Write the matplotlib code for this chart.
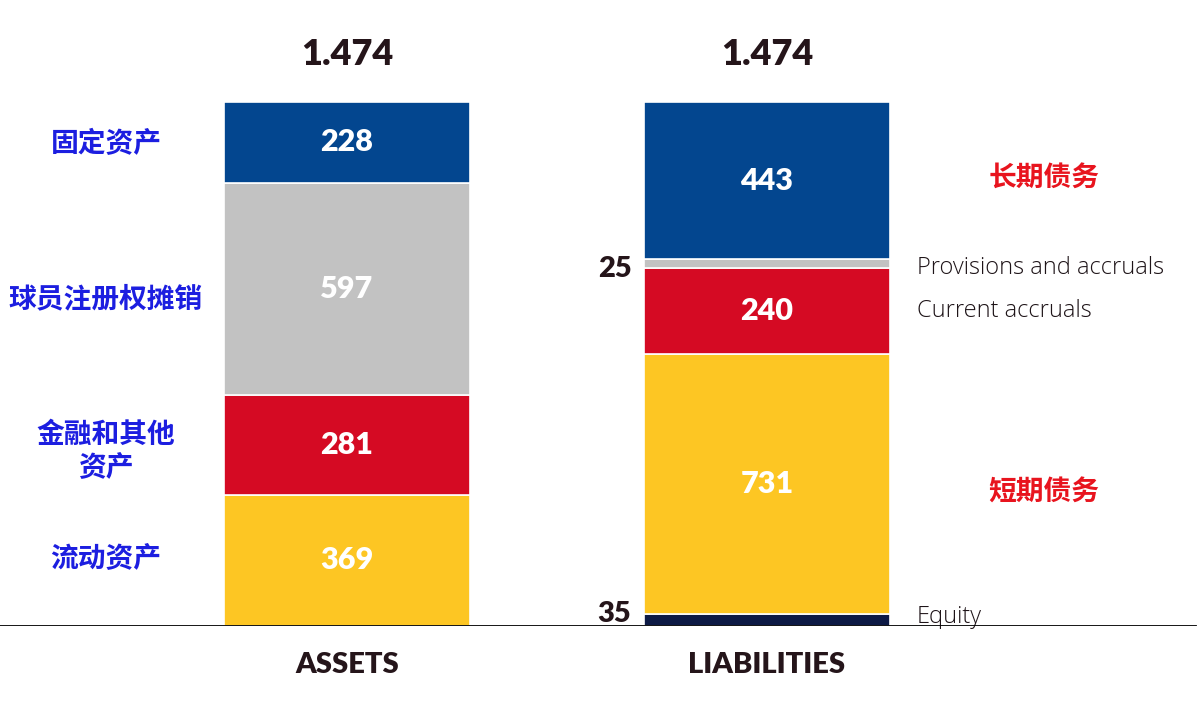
import matplotlib
matplotlib.use("Agg")
import matplotlib.pyplot as plt
import numpy as np

# data (millions)
bars = ["ASSETS", "LIABILITIES"]
totals = ["1.474", "1.474"]
assets_vals = [369, 281, 597, 228]          # bottom -> top
assets_cols = ["#fdc623", "#d50a23", "#c2c2c2", "#03468f"]
assets_cn = ["流动资产", "金融和其他\n资产", "球员注册权摊销", "固定资产"]
liab_vals = [35, 731, 240, 25, 443]         # bottom -> top
liab_cols = ["#0d1a45", "#fdc623", "#d50a23", "#c2c2c2", "#03468f"]
liab_en = ["Equity", None, "Current accruals", "Provisions and accruals", None]
liab_cn = {"短期债务": 1, "长期债务": 4}    # label -> segment index
outside = [0, 3]                             # liability segments labelled outside the bar

num_font = "Lato"
cjk = ["Noto Sans CJK SC", "DejaVu Sans"]
dark = "#25151a"
u = 1474 / 524   # data units per pixel

fig = plt.figure(figsize=(12, 7.2), dpi=100)
ax = fig.add_axes([0, 1 - 626 / 720, 1, (626 - 102) / 720])
ax.set_xlim(-347 / 420, (1200 - 347) / 420)
ax.set_ylim(0, sum(liab_vals))
w = 246 / 420

def stack(x, vals, cols):
    bottoms = np.concatenate([[0], np.cumsum(vals)[:-1]])
    ax.bar([x] * len(vals), vals, bottom=bottoms, color=cols, width=w,
           edgecolor="white", linewidth=1.2, zorder=2)
    return bottoms

ab = stack(0, assets_vals, assets_cols)
lb = stack(1, liab_vals, liab_cols)

# values inside the bars
for v, b in zip(assets_vals, ab):
    ax.text(0, b + v / 2, str(v), ha="center", va="center", color="white",
            fontsize=22, fontweight="heavy", family=num_font, zorder=3)
out_shift = {0: 6 * u, 3: -5 * u}
for i, (v, b) in enumerate(zip(liab_vals, lb)):
    if i in outside:
        ax.text(1 - w / 2 - 0.03, b + v / 2 + out_shift[i], str(v), ha="right",
                va="center", color=dark, fontsize=21, fontweight="heavy",
                family=num_font)
    else:
        ax.text(1, b + v / 2, str(v), ha="center", va="center", color="white",
                fontsize=22, fontweight="heavy", family=num_font, zorder=3)

# totals above bars
for x, t, vals in zip([0, 1], totals, [assets_vals, liab_vals]):
    ax.annotate(t, (x, sum(vals)), xytext=(0, 34), textcoords="offset points",
                ha="center", va="center", color=dark, fontsize=26,
                fontweight="heavy", family=num_font, annotation_clip=False)

# chinese labels on the left
cn_x = -347 / 420 + 106 / 420
cn_shift = {"流动资产": 2 * u, "金融和其他\n资产": -6 * u,
            "球员注册权摊销": -11 * u, "固定资产": -2 * u}
for lab, v, b in zip(assets_cn, assets_vals, ab):
    ax.text(cn_x, b + v / 2 + cn_shift[lab], lab, ha="center", va="center",
            color="#1c1ee0", fontsize=20, fontweight="bold", family=cjk,
            linespacing=1.2)

# english labels on the right
en_x = (917 - 347) / 420
en_shift = {"Provisions and accruals": -4 * u, "Current accruals": 0,
            "Equity": 3 * u}
for lab, v, b in zip(liab_en, liab_vals, lb):
    if lab is None:
        continue
    ax.text(en_x, b + v / 2 + en_shift[lab], lab, ha="left", va="center",
            color="#1e1418", fontsize=17, family="Open Sans", fontweight="light")

cn_rx = (1044 - 347) / 420
for lab, i in liab_cn.items():
    y = lb[i] + liab_vals[i] / 2
    y += (3 * u) if i == 4 else (-9 * u)
    ax.text(cn_rx, y, lab, ha="center", va="center",
            color="#e8141e", fontsize=20, fontweight="bold", family=cjk)

# baseline and category labels
ax.axhline(0, xmin=0, xmax=1195 / 1200, color="black", linewidth=2, zorder=4)
ax.set_xticks([0, 1])
ax.set_xticklabels(bars, fontsize=21, fontweight="heavy", family=num_font, color=dark)
ax.tick_params(axis="x", length=0, pad=19)
ax.set_yticks([])
for s in ax.spines.values():
    s.set_visible(False)

fig.savefig("out.png", dpi=100, facecolor="white")
